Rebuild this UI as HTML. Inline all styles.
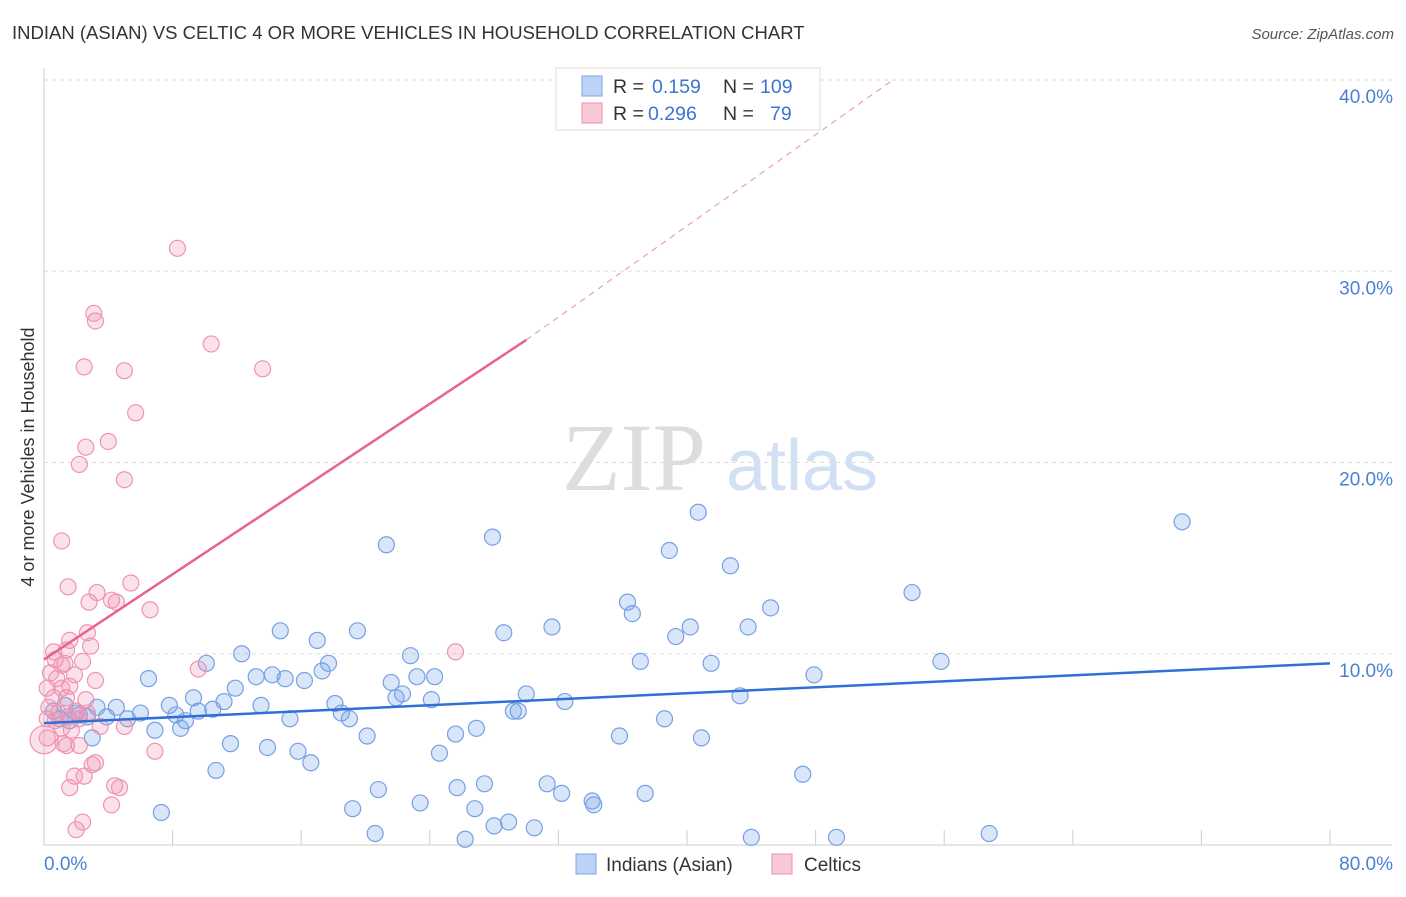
<!DOCTYPE html>
<html><head><meta charset="utf-8">
<style>
body{margin:0;background:#fff;font-family:"Liberation Sans",sans-serif;}
svg text{font-family:"Liberation Sans",sans-serif;}
</style></head>
<body>
<svg id="chart" width="1406" height="892" viewBox="0 0 1406 892" xmlns="http://www.w3.org/2000/svg">
<text x="12" y="39" font-size="18.5" fill="#333">INDIAN (ASIAN) VS CELTIC 4 OR MORE VEHICLES IN HOUSEHOLD CORRELATION CHART</text>
<text x="1394" y="39" font-size="15" fill="#555" text-anchor="end" font-style="italic">Source: ZipAtlas.com</text>
<g>
<text x="634" y="490" font-size="96" fill="#ddd" text-anchor="middle" font-family="Liberation Serif" style="font-family:'Liberation Serif',serif">ZIP</text>
<text x="802" y="490" font-size="72" fill="#d2e0f4" text-anchor="middle">atlas</text>
</g>
<g id="grid"></g>
<g id="axes"></g>
<g id="marks"></g>
<g id="trend"></g>
<g>
<rect x="556" y="68" width="264" height="62" fill="#fff" stroke="#ddd"/>
<rect x="582" y="76" width="20" height="20" fill="#bcd3f5" stroke="#7fa6e6"/>
<text x="613" y="93" font-size="19.5" fill="#333">R = </text><text x="652" y="93" font-size="19.5" fill="#3b74d0">0.159</text>
<text x="723" y="93" font-size="19.5" fill="#333">N = </text><text x="760" y="93" font-size="19.5" fill="#3b74d0">109</text>
<rect x="582" y="103" width="20" height="20" fill="#f9c8d7" stroke="#ef8fae"/>
<text x="613" y="120" font-size="19.5" fill="#333">R = </text><text x="648" y="120" font-size="19.5" fill="#3b74d0">0.296</text>
<text x="723" y="120" font-size="19.5" fill="#333">N = </text><text x="770" y="120" font-size="19.5" fill="#3b74d0">79</text>
</g>
<g>
<rect x="576" y="854" width="20" height="20" fill="#bcd3f5" stroke="#7fa6e6"/>
<text x="606" y="871" font-size="19" fill="#333">Indians (Asian)</text>
<rect x="772" y="854" width="20" height="20" fill="#f9c8d7" stroke="#ef8fae"/>
<text x="804" y="871" font-size="19" fill="#333">Celtics</text>
</g>
<text transform="translate(34,457) rotate(-90)" font-size="18" fill="#333" text-anchor="middle">4 or more Vehicles in Household</text>
</svg>
<script>
const yTicks=[10,20,30,40];
const yTickLabels=["10.0%","20.0%","30.0%","40.0%"];
const xTickVals=[0,8,16,24,32,40,48,56,64,72,80];
const xLabels=["0.0%","80.0%"];
const blueX=[70.8,40.7,27.9,21.3,38.9,42.7,54.0,36.3,36.6,45.2,28.6,31.6,19.5,14.7,17.0,40.2,39.3,43.8,12.3,22.8,37.1,41.5,55.8,47.9,10.1,6.5,17.7,17.3,13.2,14.2,15.0,16.2,11.9,21.6,23.2,24.3,22.3,21.9,30.0,32.4,24.1,43.3,9.3,11.2,7.8,4.5,6.0,3.9,5.2,3.3,2.7,3.0,2.0,1.3,0.6,1.0,1.6,2.2,8.5,10.5,9.6,13.5,8.2,8.8,6.9,15.3,18.1,18.5,19.0,29.2,29.5,38.6,11.6,13.9,15.8,20.1,16.6,24.6,25.6,26.9,35.8,40.9,10.7,47.2,20.8,27.4,31.3,32.2,25.7,23.4,19.2,26.8,34.1,34.2,37.4,7.3,20.6,28.0,28.9,30.5,26.2,44.0,49.3,58.8];
const blueY=[16.9,17.4,16.1,15.7,15.4,14.6,13.2,12.7,12.1,12.4,11.1,11.4,11.2,11.2,10.7,11.4,10.9,11.4,10.0,9.9,9.6,9.5,9.6,8.9,9.5,8.7,9.5,9.1,8.8,8.9,8.7,8.6,8.2,8.5,8.8,8.8,7.9,7.7,7.9,7.5,7.6,7.8,7.7,7.5,7.3,7.2,6.9,6.7,6.6,7.2,6.7,5.6,6.9,7.3,7.0,6.6,6.5,6.8,6.1,7.1,7.0,7.3,6.8,6.5,6.0,6.6,7.4,6.9,6.6,7.0,7.0,6.6,5.3,5.1,4.9,5.7,4.3,4.8,5.8,6.1,5.7,5.6,3.9,3.7,2.9,3.2,3.2,2.7,3.0,2.2,1.9,1.9,2.3,2.1,2.7,1.7,0.6,1.0,1.2,0.9,0.3,0.4,0.4,0.6];
const pinkX=[8.3,3.1,3.2,10.4,2.5,5.0,13.6,5.7,4.0,2.6,2.2,5.0,1.1,1.5,5.4,3.3,2.8,4.2,4.5,6.6,2.7,1.6,2.9,1.4,0.6,0.7,1.1,1.3,2.4,9.6,25.6,0.4,0.8,1.9,3.2,0.2,1.1,1.6,0.6,1.4,0.3,0.9,2.0,2.7,2.6,0.2,0.7,1.5,2.2,1.1,1.7,3.5,5.0,0.2,1.2,1.4,2.2,6.9,3.2,3.0,1.9,2.5,4.4,4.7,1.6,4.2,2.4,2.0,0.0];
const pinkY=[31.2,27.8,27.4,26.2,25.0,24.8,24.9,22.6,21.1,20.8,19.9,19.1,15.9,13.5,13.7,13.2,12.7,12.8,12.7,12.3,11.1,10.7,10.4,10.2,10.1,9.7,9.4,9.5,9.6,9.2,10.1,9.0,8.7,8.9,8.6,8.2,8.2,8.3,7.7,7.7,7.2,6.9,7.0,6.9,7.6,6.6,6.5,6.7,6.6,6.1,6.0,6.2,6.2,5.6,5.3,5.2,5.2,4.9,4.3,4.2,3.6,3.6,3.1,3.0,3.0,2.1,1.2,0.8,5.5];
const blueTrend=[6.37,0.0391];
const pinkTrend=[9.7,0.557];
const pinkDashEnd=[52.8,40];
const NS="http://www.w3.org/2000/svg";
const X0=44,X1=1330,Y0=845,Y40=80;
const sx=v=>X0+v*(X1-X0)/80;
const sy=v=>Y0-v*(Y0-Y40)/40;
function mk(tag,attrs,parent){const e=document.createElementNS(NS,tag);for(const k in attrs)e.setAttribute(k,attrs[k]);document.getElementById(parent).appendChild(e);return e;}
yTicks.forEach((t,i)=>{
 const l=mk('line',{x1:X0,x2:1392,y1:sy(t),y2:sy(t),stroke:'#ddd','stroke-dasharray':'4,4'},'grid');
 
 
 const tx=mk('text',{x:1393,y:sy(t)+23,'font-size':19,fill:'#4a7fd4','text-anchor':'end'},'grid');
 tx.textContent=yTickLabels[i];
 
 
});
const ax=mk('line',{x1:X0,x2:X0,y1:68,y2:Y0,stroke:'#ccc'},'axes');


const bx=mk('line',{x1:X0,x2:1392,y1:Y0,y2:Y0,stroke:'#ccc'},'axes');


xTickVals.forEach(t=>{
 const l=mk('line',{x1:sx(t),x2:sx(t),y1:Y0,y2:Y0-15,stroke:'#ccc'},'axes');
 
 
});
const xl0=mk('text',{x:44,y:870,'font-size':19,fill:'#4a7fd4'},'axes');xl0.textContent=xLabels[0];


const xl1=mk('text',{x:1393,y:870,'font-size':19,fill:'#4a7fd4','text-anchor':'end'},'axes');xl1.textContent=xLabels[1];


blueX.forEach((v,i)=>{
 const c=mk('circle',{cx:sx(v),cy:sy(blueY[i]),r:8,fill:'rgba(120,165,235,0.28)',stroke:'#76a0e4','stroke-width':1.2},'marks');
 
 
});
pinkX.forEach((v,i)=>{
 const c=mk('circle',{cx:sx(v),cy:sy(pinkY[i]),r:i==pinkX.length-1?14:8,fill:'rgba(242,150,180,0.28)',stroke:'#ef93b1','stroke-width':1.2},'marks');
 
 
});
const bl=mk('line',{x1:sx(0),y1:sy(blueTrend[0]),x2:sx(80),y2:sy(blueTrend[0]+80*blueTrend[1]),stroke:'#2f6fd6','stroke-width':2.5},'trend');


const pl=mk('line',{x1:sx(0),y1:sy(pinkTrend[0]),x2:sx(30),y2:sy(pinkTrend[0]+30*pinkTrend[1]),stroke:'#e8638f','stroke-width':2.5},'trend');


const pd=mk('line',{x1:sx(30),y1:sy(pinkTrend[0]+30*pinkTrend[1]),x2:sx(pinkDashEnd[0]),y2:sy(pinkDashEnd[1]),stroke:'#eaa0b8','stroke-width':1.2,'stroke-dasharray':'6,5'},'trend');


</script>
</body></html>
